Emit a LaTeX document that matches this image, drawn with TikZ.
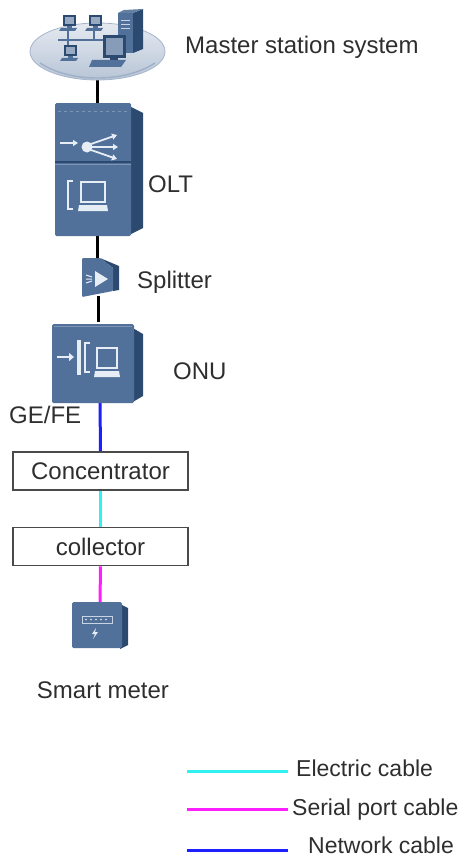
\documentclass[tikz,border=0pt]{standalone}
\usepackage{fontspec}
\setmainfont{Liberation Sans}
\usetikzlibrary{shapes.geometric,calc,arrows.meta,backgrounds}
\definecolor{devfront}{HTML}{52719A}
\definecolor{devside}{HTML}{2C4A70}
\definecolor{devtop}{HTML}{7D95B5}
\definecolor{iconfg}{HTML}{E6EDF5}
\definecolor{txt}{HTML}{2E2E2E}
\definecolor{boxline}{HTML}{4A4A4A}
\definecolor{netblue}{HTML}{1E1EFF}
\definecolor{elcyan}{HTML}{30F0F0}
\definecolor{sermag}{HTML}{FF1EFF}
\tikzset{
  lbl/.style={text=txt, font=\fontsize{24}{26}\selectfont, inner sep=0pt, anchor=base west},
  keylbl/.style={lbl, font=\fontsize{23}{25}\selectfont},
  devnode/.style={draw=none, inner sep=0pt, minimum width=1pt},
  blockbox/.style={draw=boxline, line width=1.8pt, fill=white, minimum width=175pt,
    minimum height=38pt, inner sep=0pt, text=txt, font=\fontsize{24}{26}\selectfont},
  wire/.style={line width=3pt},
  icon/.style={draw=iconfg, line width=2pt}
}
\begin{document}
\begin{tikzpicture}[x=1pt,y=-1pt]
\useasboundingbox (0,0) rectangle (467,859);

% ---------- device anchors ----------
\node[ellipse, draw=none, minimum width=135pt, minimum height=57pt, inner sep=0pt] (cloud) at (97,51.5) {};
\node[devnode, minimum height=132pt] (olt) at (97,169) {};
\node[devnode, minimum height=38pt] (splitter) at (98,277) {};
\node[devnode, minimum height=80pt] (onu) at (100,362) {};
\node[blockbox] (conc) at (100.5,471) {Concentrator};
\node[blockbox] (coll) at (100.5,546.5) {collector};
\node[devnode, minimum height=46pt] (meter) at (100,626) {};

% ---------- connectors (behind the devices and boxes) ----------
\begin{scope}[on background layer]
\draw[wire, black] (cloud.south) -- (cloud.south |- olt.north);
\draw[wire, black] (olt.south) -- (olt.south |- splitter.north);
\draw[wire, black] (splitter.south) -- (splitter.south |- onu.north);
\draw[wire, netblue] (onu.south) -- (conc.north);
\draw[wire, elcyan] (conc.south) -- (coll.north);
\draw[wire, sermag] (coll.south) -- (meter.north);
\end{scope}

% ---------- master station cloud ----------
\shade[top color=white!80!devtop, bottom color=devtop!55!white, draw=devtop!70!white, line width=0.8pt]
  (97.5,51.5) ellipse [x radius=67.5, y radius=28.5];
\draw[devtop!75!white, line width=1.4pt] (40,63) .. controls (70,83) and (125,83) .. (155,63);
% network bus
\draw[devfront, line width=1.6pt] (58,40) -- (106,40);
\draw[devfront, line width=1.2pt] (68,31) -- (68,45) (94,31) -- (94,40);
% small workstations
\foreach \x/\y in {62/15, 88/15, 63/45} {
  \fill[devside] (\x+1,\y) rectangle (\x+14,\y+11);
  \fill[devfront!60!white] (\x+3,\y+2) rectangle (\x+12,\y+9);
  \fill[devfront] (\x+5,\y+11) rectangle (\x+10,\y+13);
  \fill[devfront] (\x-1,\y+13) -- (\x+15,\y+13) -- (\x+13,\y+16) -- (\x-3,\y+16) -- cycle;
}
% tower server
\fill[devside] (133,13) -- (143,9) -- (143,49) -- (133,53) -- cycle;
\fill[devfront!90!white] (118,13) -- (124,10) -- (143,9) -- (133,13) -- cycle;
\fill[devfront] (118,13) rectangle (133,53);
\draw[iconfg!80!devfront, line width=0.8pt] (121,20) -- (130,20) (121,24) -- (130,24) (121,28) -- (130,28);
% large workstation
\fill[devside] (103,35) rectangle (126,58);
\fill[devfront!70!white] (106,38) rectangle (123,55);
\fill[devfront] (92,60) -- (126,60) -- (121,67) -- (89,67) -- cycle;
\fill[devside] (110,58) rectangle (118,60);

% ---------- OLT ----------
\fill[devside] (129,106) -- (143,113) -- (143,228) -- (129,235) -- cycle;
\fill[devfront, rounded corners=1.5pt] (55,103) rectangle (131,236);
\draw[devtop, dashed, line width=0.8pt] (58,111) -- (128,111);
\draw[devside, line width=1.2pt] (55,162) -- (131,162);
\draw[devtop, line width=0.8pt] (55,164) -- (131,164);
% transmit icon
\draw[icon, -{Triangle[length=5pt,width=6pt]}] (60,143) -- (78,143);
\fill[iconfg] (87,147) circle (5.5);
\draw[icon, line width=1.8pt, -{Triangle[length=5pt,width=6pt]}] (91,144) -- (117,135);
\draw[icon, line width=1.8pt, -{Triangle[length=5pt,width=6pt]}] (92,147) -- (118,147);
\draw[icon, line width=1.8pt, -{Triangle[length=5pt,width=6pt]}] (91,150) -- (117,159);
% terminal icon
\draw[icon, line width=2.4pt] (73,181) -- (68,181) -- (68,209) -- (73,209);
\draw[icon, line width=2.4pt] (81,182) rectangle (105,202);
\fill[iconfg] (79,205) -- (107,205) -- (108,211) -- (78,211) -- cycle;

% ---------- splitter ----------
\fill[devside] (100,258) -- (119,266) -- (119,290) -- (113,291) -- (113,268) -- cycle;
\fill[devfront, rounded corners=1pt] (82,258) -- (100,258) -- (113,268) -- (113,291) -- (82,297) -- cycle;
\fill[iconfg] (95,271) -- (108,279) -- (95,287) -- cycle;
\draw[iconfg, line width=1pt] (86,275) -- (92,277) (86,279) -- (92,279) (86,283) -- (92,281);

% ---------- ONU ----------
\fill[devside] (131,327) -- (143,334) -- (143,396) -- (131,403) -- cycle;
\fill[devfront, rounded corners=1.5pt] (52,324) rectangle (134,403);
\draw[devtop, line width=0.8pt] (54,326) -- (132,326);
\draw[icon, line width=2.6pt, -{Triangle[length=5pt,width=8pt]}] (57,357) -- (74,357);
\fill[iconfg] (77,340) rectangle (81,375);
\draw[icon, line width=2.4pt] (90,343) -- (85,343) -- (85,372) -- (90,372);
\draw[icon, line width=2.4pt] (97,348) rectangle (117,368);
\fill[iconfg] (95,371) -- (119,371) -- (120,377) -- (94,377) -- cycle;

% ---------- smart meter ----------
\fill[devside] (120,604) -- (128,608) -- (128,645) -- (120,649) -- cycle;
\fill[devfront, rounded corners=1.5pt] (72,602) rectangle (122,648);
\draw[iconfg!80!devfront, line width=0.8pt] (82,616) rectangle (112,623);
\foreach \x in {86,91,96,101,106} \fill[iconfg] (\x,619.5) circle (0.9);
\fill[iconfg] (96,628) -- (92,634) -- (95,634) -- (93,639) -- (98,632) -- (95,632) -- cycle;

% ---------- labels ----------
\node[lbl] (lmaster) at (185,53) {Master station system};
\node[lbl] (lolt) at (148,192) {OLT};
\node[lbl] (lsplit) at (137,288) {Splitter};
\node[lbl] (lonu) at (173,379) {ONU};
\node[lbl] (lgefe) at (9,423) {GE/FE};
\node[lbl, anchor=base] (lmeter) at (103,698) {Smart meter};

% ---------- legend ----------
\coordinate (e1) at (187,771); \coordinate (e2) at (288,771);
\coordinate (s1) at (187,809); \coordinate (s2) at (288,809);
\coordinate (n1) at (187,850); \coordinate (n2) at (288,850);
\draw[wire, elcyan] (e1) -- (e2);
\draw[wire, sermag] (s1) -- (s2);
\draw[wire, netblue] (n1) -- (n2);
\node[keylbl] (lelec) at (296,776) {Electric cable};
\node[keylbl] (lser) at (292,815) {Serial port cable};
\node[keylbl] (lnet) at (308,853) {Network cable};
\end{tikzpicture}
\end{document}
